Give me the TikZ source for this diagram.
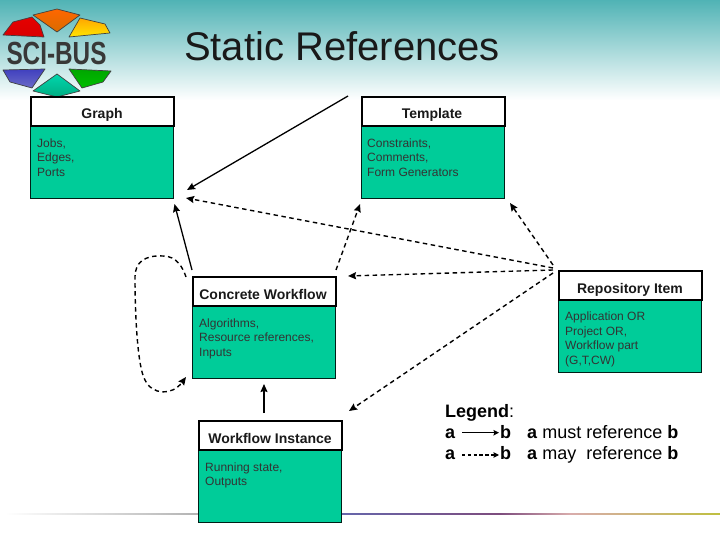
\documentclass[tikz,border=0pt]{standalone}
\usepackage{fontspec}
\setmainfont{Liberation Sans}
\usetikzlibrary{arrows.meta,calc}
\definecolor{boxgreen}{HTML}{00CC99}
\definecolor{bgteal}{HTML}{50B3B5}
\tikzset{
  headbox/.style={draw=black,line width=1.6pt,fill=white,minimum width=143pt,minimum height=29pt,inner sep=0pt},
  headlabel/.style={font=\bfseries\fontsize{14}{16}\selectfont,text=black!90,inner sep=0pt,anchor=base},
  bodybox/.style={draw=black!85!boxgreen,line width=0.7pt,fill=boxgreen,minimum width=143pt,minimum height=72pt,anchor=north west,inner sep=0pt},
  bodytext/.style={anchor=north west,align=left,inner sep=0pt,font=\fontsize{12}{14.5}\selectfont,text=black!80},
  must/.style={line width=1.3pt,-{Stealth[length=8pt,width=7pt,inset=1pt]}},
  may/.style={line width=1.4pt,dash pattern=on 4.5pt off 3.5pt,-{Stealth[length=8pt,width=7pt,inset=1pt]}},
  legendtext/.style={inner sep=0pt,font=\fontsize{18}{20}\selectfont,anchor=base west},
  petal/.style={draw=black!75,line width=0.7pt,line join=round},
}
\begin{document}
\begin{tikzpicture}[x=1pt,y=-1pt]
\useasboundingbox (0,0) rectangle (720,540);
\fill[white] (0,0) rectangle (720,540);
\shade[top color=bgteal,bottom color=white] (0,0) rectangle (720,100);
% footer line
\shade[left color=white,right color=black!30!white] (5,513) rectangle (198,514.5);
\shade[left color=black!55!blue!60!white,right color=violet!55!black!70!white] (342,513) rectangle (500,514.5);
\shade[left color=violet!55!black!70!white,right color=pink!70!gray] (500,513) rectangle (570,514.5);
\shade[left color=pink!70!gray,right color=yellow!50!gray] (570,513) rectangle (720,514.5);
% logo
\begin{scope}
\shadedraw[petal,top color=red!90!black,bottom color=red!85!black] (3,35) -- (13,22) -- (32,17) -- (40,25) -- (44,37) -- cycle;
\shadedraw[petal,top color=orange!80!red,bottom color=orange!85!black] (33,15) -- (57,9) -- (80,15) -- (57,32) -- cycle;
\shadedraw[petal,top color=orange!70!yellow,bottom color=yellow!80!orange] (69,37) -- (80,18) -- (105,24) -- (110,33) -- cycle;
\shadedraw[petal,top color=blue!50!gray,bottom color=blue!45!gray!80!white] (3,70) -- (45,69) -- (32,88) -- (10,82) -- cycle;
\shadedraw[petal,top color=boxgreen!80!cyan,bottom color=boxgreen!85!black] (33,91) -- (57,74) -- (80,91) -- (57,97) -- cycle;
\shadedraw[petal,top color=green!65!black,bottom color=green!75!black] (69,69) -- (111,71) -- (103,82) -- (82,88) -- cycle;
\node[inner sep=0pt,font=\bfseries\fontsize{32}{34}\selectfont,text=black!78] (logotext) at (56.5,53.5) {\addfontfeature{FakeStretch=0.76}SCI-BUS};
\end{scope}
% title
\node[inner sep=0pt,font=\fontsize{40}{44}\selectfont,text=black!90] (title) at (342,46) {Static References};
% boxes
\node[bodybox] (graphbody) at (30,126) {};
\node[headbox,anchor=north west] (graph) at (30,96) {};
\node[headlabel] (graphlabel) at (102,119) {Graph};
\node[bodytext] (graphtext) at (37,138.5) {Jobs,\\Edges,\\Ports};
\node[bodybox] (tplbody) at (361,126) {};
\node[headbox,anchor=north west] (tpl) at (361,96) {};
\node[headlabel] (tpllabel) at (432,119) {Template};
\node[bodytext] (tpltext) at (367,138.5) {Constraints,\\Comments,\\Form Generators};
\node[bodybox] (cwbody) at (192,306) {};
\node[headbox,anchor=north west] (cw) at (192,276) {};
\node[headlabel] (cwlabel) at (263,299) {Concrete Workflow};
\node[bodytext] (cwtext) at (199,318.5) {Algorithms,\\Resource references,\\Inputs};
\node[bodybox] (repobody) at (558,300) {};
\node[headbox,anchor=north west] (repo) at (558,270) {};
\node[headlabel] (repolabel) at (630,293) {Repository Item};
\node[bodytext] (repotext) at (565,312) {Application OR\\Project OR,\\Workflow part\\(G,T,CW)};
\node[bodybox] (wibody) at (198,450) {};
\node[headbox,anchor=north west] (wi) at (198,420) {};
\node[headlabel] (wilabel) at (270,443) {Workflow Instance};
\node[bodytext] (witext) at (205,462.5) {Running state,\\Outputs};
% connector ends
\coordinate (tplstart) at (348,96);
\coordinate (graphend) at (187,190);
\coordinate (rA) at (553,268);
\coordinate (rT) at (553,265);
\coordinate (rB) at (553,270);
\coordinate (rC) at (553,273);
\coordinate (graphcorner) at (186,198);
\coordinate (cwtl) at (192,270);
\coordinate (graphbot) at (174.5,204);
\coordinate (cwtr) at (336,270);
\coordinate (tplbot) at (360,204);
\coordinate (cwright) at (348,276);
\coordinate (tplbr) at (510,203);
\coordinate (wiright) at (349,411);
\coordinate (wit) at (264,413);
\coordinate (cwb) at (264,384);
\coordinate (la) at (186,277);
\coordinate (lb) at (186,377);
% connectors
\draw[must] (tplstart) -- (graphend);
\draw[may] (rA) -- (graphcorner);
\draw[must] (cwtl) -- (graphbot);
\draw[may] (cwtr) -- (tplbot);
\draw[may] (rB) -- (cwright);
\draw[may] (rT) -- (tplbr);
\draw[may] (rC) -- (wiright);
\draw[must] (wit) -- (cwb);
\draw[may] (la) .. controls (183,268) and (177,256) .. (163,256) .. controls (145,255) and (135,262) .. (135,277) .. controls (135,320) and (138,368) .. (145,380) .. controls (152,395) and (172,396) .. (lb);
% legend
\node[legendtext] (legendtitle) at (445,417) {\textbf{Legend}:};
\node[legendtext] (a1) at (445,438) {\textbf{a}};
\node[legendtext] (b1) at (500,438) {\textbf{b}};
\node[legendtext] (t1) at (527,438) {\textbf{a} must reference \textbf{b}};
\node[legendtext] (a2) at (445,459.5) {\textbf{a}};
\node[legendtext] (b2) at (500,459.5) {\textbf{b}};
\node[legendtext] (t2) at (527,459.5) {\textbf{a} may\ \ reference \textbf{b}};
\coordinate (l1s) at (462,432.7);
\coordinate (l1e) at (499,432.7);
\coordinate (l2s) at (462,455);
\coordinate (l2e) at (499,455);
\draw[line width=1.1pt,-{Stealth[length=5.5pt,width=5.5pt,inset=0.8pt]}] (l1s) -- (l1e);
\draw[line width=1.1pt,dash pattern=on 3.4pt off 2.4pt,-{Stealth[length=5.5pt,width=5.5pt,inset=0.8pt]}] (l2s) -- (l2e);
\end{tikzpicture}
\end{document}
